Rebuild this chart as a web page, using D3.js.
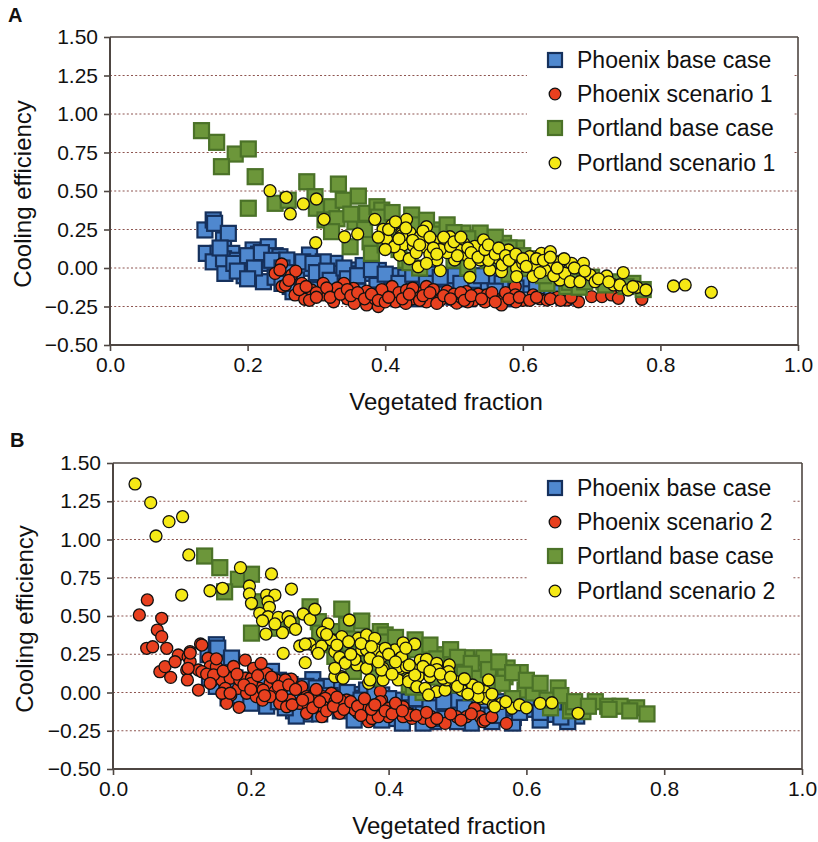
<!DOCTYPE html>
<html><head><meta charset="utf-8">
<script src="https://cdn.jsdelivr.net/npm/d3@7"></script>
<style>body{margin:0;background:#fff;} text{font-family:"Liberation Sans",Arial,sans-serif;}</style>
</head><body><svg id="c" width="818" height="842"></svg>
<script>
const xTicks = [0, 0.2, 0.4, 0.6, 0.8, 1.0];
const yTicks = [-0.5, -0.25, 0, 0.25, 0.5, 0.75, 1.0, 1.25, 1.5];
const gridTicks = [-0.25, 0, 0.25, 0.5, 0.75, 1.0, 1.25];
const xTitle = "Vegetated fraction";
const yTitle = "Cooling efficiency";

const phoenixBase = [
[0.138,0.247],[0.150,0.312],[0.152,0.29],[0.165,0.182],[0.172,0.225],[0.14,0.095],[0.157,0.095],[0.177,0.095],
[0.150,0.04],[0.174,0.019],[0.167,-0.035],[0.165,0.06],[0.185,0.05],[0.19,0.0],[0.195,-0.05],[0.208,0.117],
[0.23,0.138],[0.203,0.052],[0.225,0.03],[0.206,-0.035],[0.223,-0.089],[0.216,0.09],[0.24,0.08],[0.247,0.073],
[0.257,0.052],[0.29,0.084],[0.286,-0.002],[0.305,0.019],[0.327,0.03],[0.271,-0.078],[0.303,-0.067],[0.334,-0.035],
[0.354,-0.013],[0.373,-0.035],[0.388,-0.078],[0.262,-0.12],[0.279,-0.14],[0.24,-0.06],[0.31,0.04],[0.358,-0.038],
[0.368,0.016],[0.39,-0.016],[0.402,-0.17],[0.41,-0.05],[0.43,-0.06],[0.446,-0.078],[0.489,-0.089],[0.465,-0.19],
[0.45,-0.14],[0.47,-0.04],[0.5,-0.05],[0.518,-0.143],[0.53,-0.08],[0.55,-0.1],[0.56,-0.06],[0.581,-0.163],
[0.606,-0.11],[0.6,-0.07],[0.635,-0.143],[0.62,-0.18],[0.673,-0.154],[0.66,-0.19],[0.64,-0.1],[0.58,-0.2],
[0.52,-0.2],[0.48,-0.17],[0.42,-0.2],[0.36,-0.15],[0.33,-0.12],[0.3,-0.1],[0.266,-0.154],[0.55,-0.19],
[0.16,0.13],[0.18,0.03],[0.2,0.08],[0.21,0.0],[0.22,0.1],[0.235,0.05],[0.25,0.0],[0.26,-0.03],
[0.28,0.04],[0.295,0.03],[0.3,-0.03],[0.315,-0.02],[0.32,-0.08],[0.34,0.0],[0.345,-0.07],[0.36,-0.05],
[0.38,-0.01],[0.4,-0.04],[0.42,-0.1],[0.44,-0.04],[0.46,-0.1],[0.48,-0.06],[0.51,-0.1],[0.54,-0.05],
[0.57,-0.1],[0.59,-0.13],[0.185,-0.02],[0.2,-0.07],[0.25,-0.1],[0.3,-0.14],[0.35,-0.18],[0.39,-0.18],
[0.45,-0.2],[0.5,-0.19],[0.56,-0.15],[0.62,-0.13],[0.65,-0.16]
];
const portlandBase = [
[0.133,0.892],[0.155,0.816],[0.182,0.74],[0.201,0.773],[0.162,0.658],[0.211,0.593],[0.201,0.388],[0.286,0.56],
[0.332,0.545],[0.24,0.42],[0.259,0.44],[0.298,0.463],[0.361,0.467],[0.30,0.388],[0.322,0.398],[0.339,0.44],
[0.3125,0.312],[0.33,0.32],[0.356,0.30],[0.322,0.236],[0.349,0.138],[0.378,0.17],[0.38,0.095],[0.373,0.355],
[0.388,0.398],[0.40,0.30],[0.41,0.22],[0.395,0.376],[0.42,0.12],[0.4385,0.344],[0.45,0.25],[0.46,0.18],
[0.47,0.10],[0.48,0.247],[0.49,0.15],[0.50,0.05],[0.513,0.227],[0.508,0.169],[0.538,0.227],[0.53,0.10],
[0.52,0.0],[0.55,0.05],[0.572,0.16],[0.569,0.103],[0.591,0.13],[0.598,0.016],[0.61,-0.003],[0.58,-0.04],
[0.646,0.03],[0.635,-0.1],[0.664,-0.12],[0.668,-0.093],[0.682,-0.125],[0.70,-0.06],[0.718,-0.09],[0.736,-0.09],
[0.76,-0.10],[0.775,-0.14],[0.43,0.05],[0.45,0.0],[0.40,0.15],[0.37,0.25],[0.35,0.35],[0.436,0.035],
[0.39,0.33],[0.41,0.36],[0.42,0.26],[0.44,0.28],[0.46,0.31],[0.47,0.22],[0.49,0.28],[0.5,0.23],
[0.52,0.19],[0.51,0.12],[0.545,0.15],[0.56,0.2],[0.565,0.06],[0.58,0.13],[0.6,0.08],[0.62,0.06],
[0.63,-0.05],[0.65,-0.02],[0.67,-0.06],[0.69,-0.09],[0.72,-0.11],[0.75,-0.12]
];
const phoenixScen1 = [
[0.2495,0.026],[0.24,-0.035],[0.264,-0.045],[0.27,-0.02],[0.279,-0.10],[0.25,-0.12],[0.255,-0.11],[0.269,-0.175],
[0.283,-0.203],[0.293,-0.143],[0.31,-0.10],[0.31,-0.175],[0.325,-0.154],[0.34,-0.10],[0.325,-0.219],[0.354,-0.132],
[0.364,-0.19],[0.373,-0.15],[0.373,-0.24],[0.385,-0.20],[0.39,-0.25],[0.40,-0.17],[0.41,-0.12],[0.415,-0.22],
[0.42,-0.16],[0.431,-0.143],[0.44,-0.20],[0.45,-0.163],[0.46,-0.12],[0.47,-0.19],[0.48,-0.21],[0.49,-0.15],
[0.504,-0.228],[0.518,-0.154],[0.529,-0.21],[0.535,-0.17],[0.548,-0.175],[0.56,-0.20],[0.567,-0.219],[0.569,-0.24],
[0.575,-0.16],[0.589,-0.12],[0.589,-0.175],[0.60,-0.21],[0.615,-0.175],[0.625,-0.2],[0.635,-0.208],[0.65,-0.19],
[0.664,-0.208],[0.681,-0.219],[0.70,-0.186],[0.715,-0.186],[0.729,-0.175],[0.739,-0.197],[0.773,-0.203],[0.345,-0.2],
[0.33,-0.13],[0.30,-0.16],[0.29,-0.21],[0.43,-0.23],[0.46,-0.22],[0.51,-0.19],[0.545,-0.22],[0.355,-0.23],
[0.395,-0.14],[0.47,-0.14],[0.44,-0.13],[0.52,-0.22],[0.59,-0.22],[0.50,-0.17],[0.247,-0.013],
[0.26,-0.08],[0.275,-0.14],[0.285,-0.12],[0.3,-0.19],[0.315,-0.13],[0.32,-0.19],[0.335,-0.17],[0.345,-0.14],
[0.35,-0.18],[0.36,-0.16],[0.37,-0.2],[0.38,-0.17],[0.39,-0.21],[0.4,-0.22],[0.405,-0.19],[0.425,-0.2],
[0.435,-0.17],[0.45,-0.21],[0.455,-0.18],[0.465,-0.16],[0.475,-0.23],[0.485,-0.18],[0.495,-0.2],[0.51,-0.16],
[0.515,-0.21],[0.525,-0.18],[0.54,-0.2],[0.555,-0.16],[0.56,-0.22],[0.58,-0.2],[0.595,-0.19],[0.61,-0.21],
[0.62,-0.19],[0.64,-0.2],[0.655,-0.21],[0.67,-0.19]
];
const portlandScen1 = [
[0.2326,0.502],[0.256,0.459],[0.281,0.416],[0.30,0.448],[0.262,0.351],[0.311,0.316],[0.299,0.164],[0.341,0.203],
[0.36,0.221],[0.385,0.316],[0.397,0.251],[0.402,0.186],[0.431,0.316],[0.46,0.268],[0.424,0.225],[0.436,0.23],
[0.417,0.16],[0.426,0.15],[0.441,0.143],[0.455,0.138],[0.421,0.084],[0.448,0.008],[0.48,-0.017],[0.475,0.052],
[0.494,0.203],[0.472,0.17],[0.487,0.16],[0.514,0.16],[0.507,0.117],[0.501,0.052],[0.518,0.084],[0.523,0.03],
[0.533,0.106],[0.543,0.17],[0.538,0.052],[0.552,-0.013],[0.523,-0.06],[0.557,0.106],[0.564,0.063],[0.569,-0.024],
[0.579,0.117],[0.584,0.074],[0.591,-0.002],[0.591,-0.056],[0.61,0.074],[0.618,0.019],[0.615,-0.056],[0.627,0.095],
[0.64,0.106],[0.644,0.03],[0.632,-0.013],[0.654,0.041],[0.654,-0.078],[0.645,-0.05],[0.671,0.03],[0.688,0.03],
[0.661,-0.035],[0.669,-0.089],[0.683,-0.089],[0.698,-0.045],[0.722,-0.052],[0.746,-0.03],[0.705,-0.089],[0.732,-0.11],
[0.741,-0.11],[0.753,-0.143],[0.766,-0.125],[0.779,-0.143],[0.819,-0.117],[0.836,-0.11],[0.874,-0.158],[0.413,0.138],
[0.424,0.21],[0.41,0.28],[0.45,0.20],[0.465,0.09],[0.49,0.10],[0.53,0.14],[0.55,0.05],[0.57,0.02],
[0.60,0.03],[0.625,-0.03],[0.48,0.12],[0.435,0.06],[0.46,0.03],[0.543,0.182],
[0.39,0.2],[0.4,0.12],[0.405,0.25],[0.415,0.3],[0.42,0.19],[0.43,0.26],[0.44,0.18],[0.445,0.1],
[0.45,0.15],[0.455,0.24],[0.465,0.2],[0.47,0.13],[0.475,0.09],[0.485,0.2],[0.495,0.14],[0.5,0.17],
[0.505,0.08],[0.51,0.2],[0.52,0.13],[0.525,0.1],[0.535,0.07],[0.545,0.12],[0.55,0.15],[0.56,0.09],
[0.565,0.13],[0.575,0.08],[0.58,0.05],[0.59,0.09],[0.6,0.06],[0.605,0.01],[0.62,0.06],[0.63,0.05],
[0.64,0.07],[0.65,0.0],[0.66,0.06],[0.675,0.0],[0.69,-0.02],[0.71,-0.07],[0.725,-0.09],[0.76,-0.12]
];
const phoenixScen2 = [
[0.0498,0.605],[0.0382,0.507],[0.0707,0.485],[0.0643,0.408],[0.0707,0.365],[0.0489,0.289],[0.0576,0.299],[0.078,0.289],
[0.068,0.136],[0.0755,0.169],[0.0837,0.099],[0.0948,0.245],[0.090,0.201],[0.1118,0.267],[0.109,0.234],[0.112,0.201],
[0.107,0.147],[0.108,0.082],[0.127,0.317],[0.124,0.147],[0.124,0.016],[0.138,0.224],[0.141,0.169],[0.129,0.136],
[0.150,0.169],[0.143,0.071],[0.136,0.12],[0.158,0.082],[0.170,0.093],[0.163,0.027],[0.171,-0.016],[0.165,-0.071],
[0.182,0.027],[0.184,0.082],[0.183,-0.097],[0.192,0.212],[0.192,0.093],[0.194,-0.005],[0.201,0.093],[0.204,0.158],
[0.213,0.027],[0.223,0.125],[0.228,0.06],[0.235,0.006],[0.237,0.082],[0.247,0.038],[0.259,0.087],[0.257,-0.049],
[0.274,0.038],[0.271,-0.071],[0.281,-0.027],[0.283,-0.082],[0.208,-0.027],[0.217,-0.05],[0.146,0.115],[0.141,0.06],
[0.158,-0.005],[0.170,-0.005],[0.201,0.06],[0.218,0.016],[0.228,-0.027],[0.25,0.082],[0.242,-0.071],[0.252,-0.093],
[0.288,-0.038],[0.281,-0.136],[0.303,-0.158],[0.305,-0.027],[0.317,-0.005],[0.312,-0.093],[0.329,-0.136],[0.339,-0.049],
[0.349,-0.082],[0.356,-0.136],[0.368,-0.071],[0.371,-0.191],[0.383,-0.136],[0.390,-0.049],[0.400,-0.158],[0.414,-0.103],
[0.429,-0.136],[0.434,-0.169],[0.293,-0.005],[0.283,-0.038],[0.308,-0.038],[0.305,-0.093],[0.322,-0.06],[0.337,-0.093],
[0.351,-0.114],[0.376,-0.17],[0.388,0.006],[0.388,-0.06],[0.385,-0.158],[0.40,-0.103],[0.421,-0.158],[0.431,-0.147],
[0.450,-0.169],[0.462,-0.158],[0.482,-0.202],[0.499,-0.158],[0.513,-0.158],[0.525,-0.103],[0.533,-0.158],[0.537,-0.191],
[0.571,-0.202],[0.421,-0.093],[0.462,-0.191],[0.540,-0.180],[0.33,-0.05],[0.36,-0.1],[0.41,-0.12],[0.109,0.158],
[0.129,0.31],[0.112,0.258],
[0.15,0.22],[0.16,0.14],[0.175,0.17],[0.18,0.12],[0.19,0.05],[0.2,0.02],[0.21,0.11],[0.215,0.19],
[0.22,-0.02],[0.23,0.1],[0.24,0.04],[0.245,-0.02],[0.255,0.05],[0.26,-0.08],[0.265,0.02],[0.275,-0.05],
[0.29,-0.1],[0.295,0.02],[0.3,-0.06],[0.31,-0.12],[0.32,-0.09],[0.325,-0.03],[0.335,-0.11],[0.345,-0.06],
[0.355,-0.09],[0.36,-0.15],[0.365,-0.04],[0.375,-0.11],[0.38,-0.08],[0.395,-0.12],[0.405,-0.14],[0.41,-0.07],
[0.42,-0.12],[0.44,-0.15],[0.455,-0.13],[0.47,-0.17],[0.49,-0.14],[0.505,-0.18],[0.52,-0.14],[0.55,-0.16]
];
const portlandScen2 = [
[0.032,1.363],[0.0547,1.241],[0.0624,1.023],[0.0813,1.117],[0.101,1.149],[0.110,0.899],[0.0997,0.637],[0.1408,0.665],
[0.159,0.681],[0.185,0.816],[0.198,0.696],[0.230,0.775],[0.259,0.676],[0.198,0.644],[0.201,0.583],[0.223,0.637],
[0.235,0.637],[0.225,0.593],[0.227,0.557],[0.213,0.517],[0.225,0.495],[0.217,0.469],[0.240,0.491],[0.254,0.495],
[0.257,0.463],[0.265,0.413],[0.246,0.391],[0.222,0.382],[0.235,0.448],[0.247,0.256],[0.276,0.513],[0.271,0.304],
[0.279,0.195],[0.286,0.317],[0.286,0.478],[0.293,0.544],[0.312,0.448],[0.304,0.393],[0.296,0.278],[0.303,0.304],
[0.320,0.343],[0.332,0.365],[0.322,0.267],[0.329,0.230],[0.339,0.201],[0.343,0.474],[0.356,0.354],[0.361,0.278],
[0.354,0.180],[0.368,0.376],[0.368,0.278],[0.368,0.158],[0.380,0.354],[0.383,0.278],[0.390,0.234],[0.392,0.158],
[0.392,0.082],[0.371,0.06],[0.322,0.103],[0.332,0.103],[0.409,0.278],[0.417,0.224],[0.421,0.325],[0.438,0.317],
[0.417,0.158],[0.414,0.082],[0.429,0.087],[0.438,0.049],[0.317,0.343],[0.279,0.317],[0.298,0.256],[0.342,0.332],
[0.395,0.289],[0.419,0.230],[0.373,0.224],[0.351,0.217],[0.337,0.191],[0.322,0.158],[0.390,0.147],[0.414,0.169],
[0.436,0.152],[0.446,0.212],[0.455,0.217],[0.470,0.191],[0.488,0.180],[0.487,0.136],[0.470,0.150],[0.443,0.108],
[0.460,0.103],[0.334,0.093],[0.373,0.082],[0.429,0.071],[0.441,0.038],[0.453,0.027],[0.470,0.006],[0.482,0.016],
[0.484,0.082],[0.498,0.071],[0.506,0.016],[0.458,-0.016],[0.522,0.049],[0.545,0.082],[0.528,-0.005],[0.540,0.006],
[0.535,-0.038],[0.542,-0.038],[0.552,-0.082],[0.564,-0.071],[0.579,-0.103],[0.425,0.29],[0.426,0.169],[0.438,0.115],
[0.479,0.093],[0.530,-0.027],[0.554,-0.093],[0.62,-0.071],[0.637,-0.067],[0.675,-0.136],
[0.31,0.38],[0.325,0.31],[0.345,0.25],[0.36,0.32],[0.375,0.3],[0.385,0.2],[0.4,0.25],[0.405,0.12],
[0.41,0.2],[0.43,0.18],[0.45,0.17],[0.46,0.14],[0.475,0.12],[0.49,0.1],[0.5,0.04],[0.51,0.09],
[0.515,-0.01],[0.53,0.03],[0.55,-0.01],[0.57,-0.06],[0.59,-0.08],[0.6,-0.1]
];

const panels = [
  {label:"A", left:110, right:798, top:37, bottom:345, labelX:8, labelY:22, xTitleX:446, xTitleY:410, yTitleX:31,
   legTop:40, legRows:[60,94,128,163],
   series:[
     {name:"Phoenix base case", data:phoenixBase, shape:"sq", fill:"#4f88cf", stroke:"#15305c"},
     {name:"Phoenix scenario 1", data:phoenixScen1, shape:"ci", fill:"#e8401f", stroke:"#111"},
     {name:"Portland base case", data:portlandBase, shape:"sq", fill:"#6c963a", stroke:"#4b7228"},
     {name:"Portland scenario 1", data:portlandScen1, shape:"ci", fill:"#f5e915", stroke:"#111"}
   ]},
  {label:"B", left:113, right:802, top:463, bottom:769, labelX:10, labelY:447, xTitleX:449, xTitleY:834, yTitleX:33,
   legTop:466, legRows:[488,522,556,591],
   series:[
     {name:"Phoenix base case", data:phoenixBase, shape:"sq", fill:"#4f88cf", stroke:"#15305c"},
     {name:"Phoenix scenario 2", data:phoenixScen2, shape:"ci", fill:"#e8401f", stroke:"#111"},
     {name:"Portland base case", data:portlandBase, shape:"sq", fill:"#6c963a", stroke:"#4b7228"},
     {name:"Portland scenario 2", data:portlandScen2, shape:"ci", fill:"#f5e915", stroke:"#111"}
   ]}
];

const svg = d3.select("#c");
const axisColor = "#4e4642";

panels.forEach(p => {
  const x = d3.scaleLinear().domain([0, 1]).range([p.left, p.right]);
  const y = d3.scaleLinear().domain([-0.5, 1.5]).range([p.bottom, p.top]);
  const g = svg.append("g");

  g.selectAll(".grid").data(gridTicks).enter().append("line")
    .attr("x1", p.left).attr("x2", p.right)
    .attr("y1", d => y(d)).attr("y2", d => y(d))
    .attr("stroke", "#8e5550").attr("stroke-width", 1.2).attr("stroke-dasharray", "2,2.2");

  g.append("rect").attr("x", 527).attr("y", p.legTop).attr("width", 266).attr("height", 140).attr("fill", "#fff");

  g.append("line").attr("x1", p.left).attr("x2", p.right).attr("y1", p.top).attr("y2", p.top)
    .attr("stroke", axisColor).attr("stroke-width", 1.6);
  g.append("line").attr("x1", p.right).attr("x2", p.right).attr("y1", p.top).attr("y2", p.bottom)
    .attr("stroke", axisColor).attr("stroke-width", 1.6);

  const ax = g.append("g").attr("transform", `translate(0,${p.bottom})`)
    .call(d3.axisBottom(x).tickValues(xTicks).tickFormat(d3.format(".1f")).tickSize(6).tickPadding(6));
  const ay = g.append("g").attr("transform", `translate(${p.left},0)`)
    .call(d3.axisLeft(y).tickValues(yTicks).tickFormat(d3.format(".2f")).tickSize(6).tickPadding(6));
  [ax, ay].forEach(a => {
    a.select(".domain").attr("stroke", axisColor).attr("stroke-width", 2);
    a.selectAll(".tick line").attr("stroke", axisColor).attr("stroke-width", 1.6);
    a.selectAll(".tick text").attr("font-size", 21).attr("fill", "#111")
      .attr("font-family", '"Liberation Sans",Arial,sans-serif');
  });
  ay.select(".domain").attr("d", `M0,${p.top}V${p.bottom}`);
  ax.select(".domain").attr("d", `M${p.left},0H${p.right}`);

  const sq = 15;
  p.series.forEach(s => {
    const sel = g.append("g");
    if (s.shape === "sq") {
      sel.selectAll("rect").data(s.data).enter().append("rect")
        .attr("x", d => x(d[0]) - sq/2).attr("y", d => y(d[1]) - sq/2)
        .attr("width", sq).attr("height", sq)
        .attr("fill", s.fill).attr("stroke", s.stroke).attr("stroke-width", 2.2);
    } else {
      sel.selectAll("circle").data(s.data).enter().append("circle")
        .attr("cx", d => x(d[0])).attr("cy", d => y(d[1])).attr("r", 6)
        .attr("fill", s.fill).attr("stroke", s.stroke).attr("stroke-width", 1.3);
    }
  });

  p.series.forEach((s, i) => {
    const cy = p.legRows[i];
    if (s.shape === "sq") {
      g.append("rect").attr("x", 555 - 7).attr("y", cy - 7).attr("width", 14).attr("height", 14)
        .attr("fill", s.fill).attr("stroke", s.stroke).attr("stroke-width", 2.2);
    } else {
      g.append("circle").attr("cx", 555).attr("cy", cy).attr("r", 5.8)
        .attr("fill", s.fill).attr("stroke", s.stroke).attr("stroke-width", 1.3);
    }
    g.append("text").attr("x", 577).attr("y", cy + 8).attr("font-size", 23).attr("fill", "#111").text(s.name);
  });

  g.append("text").attr("x", p.xTitleX).attr("y", p.xTitleY).attr("text-anchor", "middle")
    .attr("font-size", 24).attr("fill", "#111").text(xTitle);
  g.append("text").attr("transform", `translate(${p.yTitleX},${(p.top + p.bottom)/2 + 3}) rotate(-90)`)
    .attr("text-anchor", "middle").attr("font-size", 24).attr("fill", "#111").text(yTitle);
  g.append("text").attr("x", p.labelX).attr("y", p.labelY).attr("font-size", 20).attr("font-weight", "bold")
    .attr("fill", "#111").text(p.label);
});
</script></body></html>
